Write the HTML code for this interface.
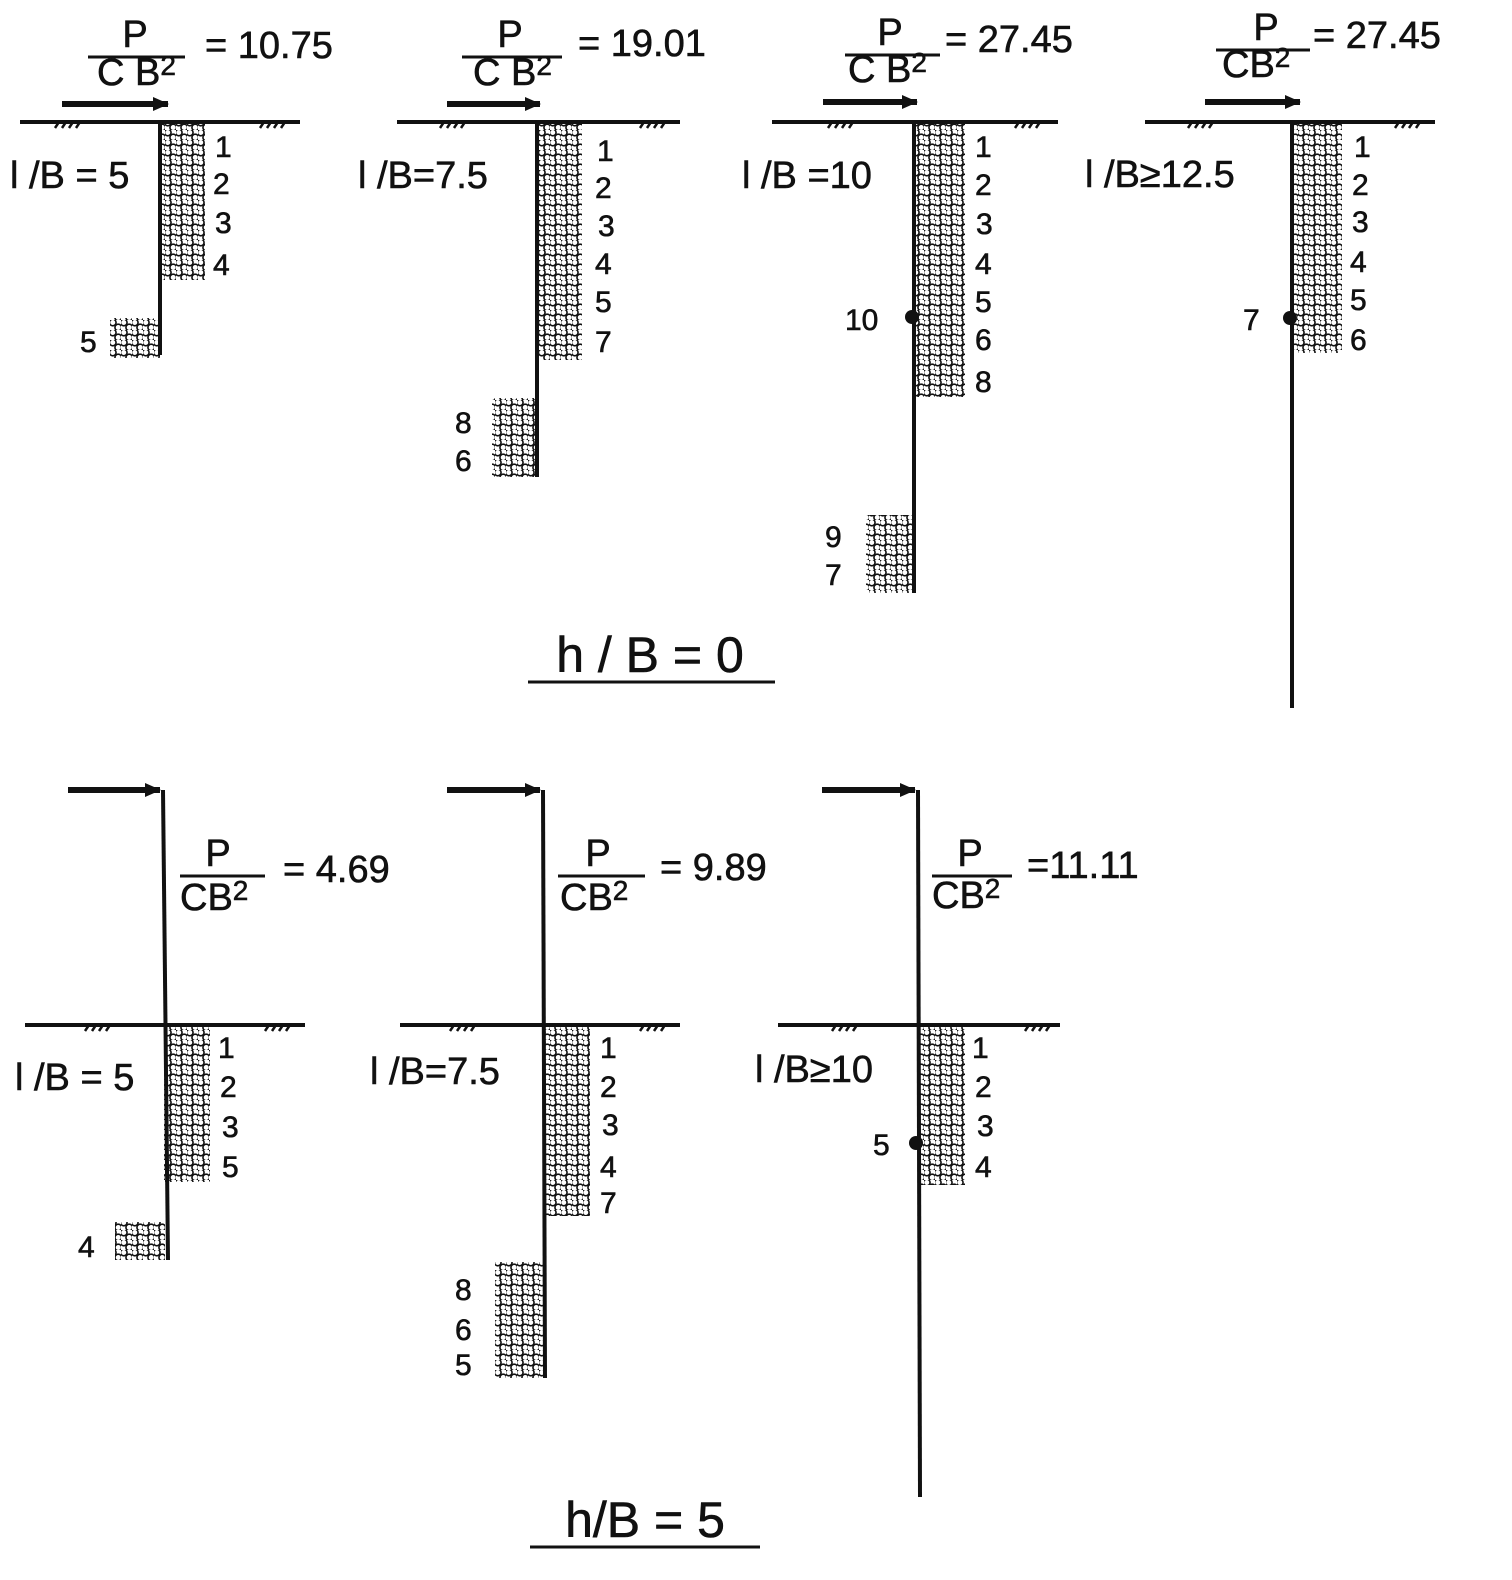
<!DOCTYPE html>
<html><head><meta charset="utf-8"><style>
html,body{margin:0;padding:0;background:#fff;}
svg text{font-family:"Liberation Sans","DejaVu Sans",sans-serif;fill:#111;stroke:#111;stroke-width:0.6;}
</style></head><body>
<svg width="1512" height="1575" viewBox="0 0 1512 1575" xmlns="http://www.w3.org/2000/svg">
<defs>
<pattern id="hx" width="11" height="10" patternUnits="userSpaceOnUse">
<rect width="11" height="10" fill="#fff"/>
<circle cx="2.75" cy="2.5" r="3.3" fill="none" stroke="#111" stroke-width="1.6"/>
<circle cx="8.25" cy="7.5" r="3.3" fill="none" stroke="#111" stroke-width="1.6"/>
</pattern>
<marker id="ah" markerWidth="16" markerHeight="14" refX="15" refY="7" orient="auto" markerUnits="userSpaceOnUse">
<path d="M0,0 L16,7 L0,14 z" fill="#111"/></marker>
</defs>
<g stroke="#111" fill="none">
<g stroke-width="4">
<line x1="20" y1="122" x2="300" y2="122"/>
<line x1="397" y1="122" x2="680" y2="122"/>
<line x1="772" y1="122" x2="1058" y2="122"/>
<line x1="1145" y1="122" x2="1435" y2="122"/>
<line x1="25" y1="1025" x2="305" y2="1025"/>
<line x1="400" y1="1025" x2="680" y2="1025"/>
<line x1="778" y1="1025" x2="1060" y2="1025"/>
</g>
<g stroke-width="2.5">
<path d="M55,128 l4,-6 M62,128 l4,-6 M69,128 l4,-6 M76,128 l4,-6 M260,128 l4,-6 M267,128 l4,-6 M274,128 l4,-6 M281,128 l4,-6"/>
<path d="M440,128 l4,-6 M447,128 l4,-6 M454,128 l4,-6 M461,128 l4,-6 M640,128 l4,-6 M647,128 l4,-6 M654,128 l4,-6 M661,128 l4,-6"/>
<path d="M828,128 l4,-6 M835,128 l4,-6 M842,128 l4,-6 M849,128 l4,-6 M1015,128 l4,-6 M1022,128 l4,-6 M1029,128 l4,-6 M1036,128 l4,-6"/>
<path d="M1188,128 l4,-6 M1195,128 l4,-6 M1202,128 l4,-6 M1209,128 l4,-6 M1395,128 l4,-6 M1402,128 l4,-6 M1409,128 l4,-6 M1416,128 l4,-6"/>
<path d="M85,1031 l4,-6 M92,1031 l4,-6 M99,1031 l4,-6 M106,1031 l4,-6 M265,1031 l4,-6 M272,1031 l4,-6 M279,1031 l4,-6 M286,1031 l4,-6"/>
<path d="M450,1031 l4,-6 M457,1031 l4,-6 M464,1031 l4,-6 M471,1031 l4,-6 M640,1031 l4,-6 M647,1031 l4,-6 M654,1031 l4,-6 M661,1031 l4,-6"/>
<path d="M832,1031 l4,-6 M839,1031 l4,-6 M846,1031 l4,-6 M853,1031 l4,-6 M1025,1031 l4,-6 M1032,1031 l4,-6 M1039,1031 l4,-6 M1046,1031 l4,-6"/>
</g>
</g>
<g fill="url(#hx)" stroke="none">
<rect x="161" y="124" width="44" height="156"/>
<rect x="110" y="318" width="50" height="40"/>
<rect x="538" y="124" width="44" height="236"/>
<rect x="492" y="398" width="45" height="79"/>
<rect x="915" y="124" width="50" height="273"/>
<rect x="866" y="515" width="48" height="78"/>
<rect x="1293" y="124" width="49" height="229"/>
<rect x="164" y="1027" width="46" height="155"/>
<rect x="115" y="1222" width="50" height="38"/>
<rect x="544" y="1027" width="46" height="189"/>
<rect x="495" y="1262" width="48" height="116"/>
<rect x="919" y="1027" width="46" height="158"/>
</g>
<g stroke="#111" fill="none" stroke-width="4">
<line x1="160" y1="122" x2="160" y2="355"/>
<line x1="537" y1="122" x2="537" y2="477"/>
<line x1="914" y1="122" x2="914" y2="593"/>
<line x1="1292" y1="122" x2="1292" y2="708"/>
<line x1="163" y1="790" x2="168" y2="1260"/>
<line x1="543" y1="790" x2="545" y2="1378"/>
<line x1="918" y1="790" x2="920" y2="1497"/>
<line x1="62" y1="104" x2="168" y2="104" stroke-width="6" marker-end="url(#ah)"/>
<line x1="447" y1="104" x2="540" y2="104" stroke-width="6" marker-end="url(#ah)"/>
<line x1="823" y1="102" x2="917" y2="102" stroke-width="6" marker-end="url(#ah)"/>
<line x1="1205" y1="102" x2="1300" y2="102" stroke-width="6" marker-end="url(#ah)"/>
<line x1="68" y1="790" x2="160" y2="790" stroke-width="6" marker-end="url(#ah)"/>
<line x1="447" y1="790" x2="540" y2="790" stroke-width="6" marker-end="url(#ah)"/>
<line x1="822" y1="790" x2="915" y2="790" stroke-width="6" marker-end="url(#ah)"/>
<g stroke-width="3">
<line x1="88" y1="57" x2="185" y2="57"/>
<line x1="462" y1="57" x2="562" y2="57"/>
<line x1="845" y1="55" x2="940" y2="55"/>
<line x1="1216" y1="50" x2="1310" y2="50"/>
<line x1="180" y1="876" x2="265" y2="876"/>
<line x1="558" y1="876" x2="645" y2="876"/>
<line x1="932" y1="876" x2="1012" y2="876"/>
<line x1="528" y1="682" x2="775" y2="682"/>
<line x1="530" y1="1547" x2="760" y2="1547"/>
</g>
</g>
<circle cx="912" cy="317" r="7" fill="#111"/>
<circle cx="1290" cy="318" r="7" fill="#111"/>
<circle cx="916" cy="1143" r="7" fill="#111"/>
<g font-size="38">
<text x="135" y="47" text-anchor="middle">P</text><text x="97" y="85">C B<tspan font-size="28" dy="-10">2</tspan></text><text x="205" y="58">= 10.75</text>
<text x="510" y="47" text-anchor="middle">P</text><text x="473" y="85">C B<tspan font-size="28" dy="-10">2</tspan></text><text x="578" y="56">= 19.01</text>
<text x="890" y="45" text-anchor="middle">P</text><text x="848" y="82">C B<tspan font-size="28" dy="-10">2</tspan></text><text x="945" y="52">= 27.45</text>
<text x="1266" y="40" text-anchor="middle">P</text><text x="1222" y="77">CB<tspan font-size="28" dy="-10">2</tspan></text><text x="1313" y="48">= 27.45</text>
<text x="218" y="866" text-anchor="middle">P</text><text x="180" y="910">CB<tspan font-size="28" dy="-10">2</tspan></text><text x="283" y="882">=  4.69</text>
<text x="598" y="866" text-anchor="middle">P</text><text x="560" y="910">CB<tspan font-size="28" dy="-10">2</tspan></text><text x="660" y="880">= 9.89</text>
<text x="970" y="866" text-anchor="middle">P</text><text x="932" y="908">CB<tspan font-size="28" dy="-10">2</tspan></text><text x="1027" y="878">=11.11</text>
<text x="10" y="188">l /B = 5</text>
<text x="358" y="188">l /B=7.5</text>
<text x="742" y="188">l /B =10</text>
<text x="1085" y="187">l /B≥12.5</text>
<text x="15" y="1090">l /B = 5</text>
<text x="370" y="1084">l /B=7.5</text>
<text x="755" y="1082">l /B≥10</text>
</g>
<g font-size="30">
<text x="215" y="157">1</text><text x="213" y="194">2</text><text x="215" y="233">3</text><text x="213" y="275">4</text><text x="80" y="352">5</text>
<text x="597" y="161">1</text><text x="595" y="198">2</text><text x="598" y="236">3</text><text x="595" y="274">4</text><text x="595" y="312">5</text><text x="595" y="352">7</text><text x="455" y="433">8</text><text x="455" y="471">6</text>
<text x="975" y="157">1</text><text x="975" y="195">2</text><text x="976" y="234">3</text><text x="975" y="274">4</text><text x="975" y="312">5</text><text x="975" y="350">6</text><text x="975" y="392">8</text>
<text x="845" y="330">10</text><text x="825" y="547">9</text><text x="825" y="585">7</text>
<text x="1354" y="157">1</text><text x="1352" y="195">2</text><text x="1352" y="232">3</text><text x="1350" y="272">4</text><text x="1350" y="310">5</text><text x="1350" y="350">6</text><text x="1243" y="330">7</text>
<text x="218" y="1058">1</text><text x="220" y="1097">2</text><text x="222" y="1137">3</text><text x="222" y="1177">5</text><text x="78" y="1257">4</text>
<text x="600" y="1058">1</text><text x="600" y="1097">2</text><text x="602" y="1135">3</text><text x="600" y="1177">4</text><text x="600" y="1213">7</text>
<text x="455" y="1300">8</text><text x="455" y="1340">6</text><text x="455" y="1375">5</text>
<text x="972" y="1058">1</text><text x="975" y="1097">2</text><text x="977" y="1136">3</text><text x="975" y="1177">4</text><text x="873" y="1155">5</text>
</g>
<g font-size="50">
<text x="650" y="672" text-anchor="middle">h / B = 0</text>
<text x="645" y="1537" text-anchor="middle">h/B = 5</text>
</g>
</svg>
</body></html>
